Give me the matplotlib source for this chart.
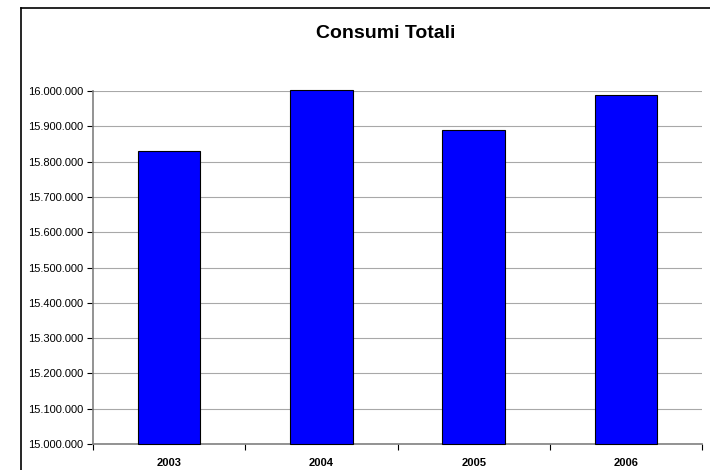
import matplotlib
matplotlib.use("Agg")
import matplotlib.pyplot as plt
from matplotlib.ticker import FuncFormatter, FixedLocator
from matplotlib.lines import Line2D

plt.rcParams["font.family"] = ["Liberation Sans", "DejaVu Sans"]

years = ["2003", "2004", "2005", "2006"]
consumi = [15830000, 16003000, 15890000, 15990000]
BASE = 15000000  # y axis starts here

BLUE = "#0000ff"
GRID = "#a8a8a8"
AXIS = "#808080"

fig = plt.figure(figsize=(7.1, 4.7), dpi=100, facecolor="white")

# outer chart border (left and top only visible in the reference)
fig.add_artist(Line2D([21 / 710, 21 / 710], [0, 1 - 8 / 470], color="black", lw=1.2))
fig.add_artist(Line2D([21 / 710, 1], [1 - 8 / 470, 1 - 8 / 470], color="black", lw=1.2))

ax = fig.add_axes([93 / 710, 1 - 444 / 470, (702 - 93) / 710, (444 - 91) / 470])

xs = list(range(len(years)))
heights = [v - BASE for v in consumi]
bars = ax.bar(xs, heights, bottom=BASE, width=0.41, color=BLUE,
              edgecolor="black", linewidth=0.8, zorder=3)
for b in bars:
    b.set_clip_on(False)  # 2004 pokes just above the top of the axis

ax.set_ylim(BASE, 16000000)
ax.set_xlim(-0.5, len(years) - 0.5)
ax.set_yticks(range(BASE, 16000001, 100000))
ax.yaxis.set_major_formatter(FuncFormatter(lambda v, p: f"{int(v):,}".replace(",", ".")))
ax.grid(True, axis="y", color=GRID, linewidth=0.8, zorder=0)
ax.set_axisbelow(True)

# ticks on category boundaries, labels centred on bars
ax.xaxis.set_major_locator(FixedLocator([i - 0.5 for i in range(len(years) + 1)]))
ax.xaxis.set_major_formatter(FuncFormatter(lambda v, p: ""))
ax.xaxis.set_minor_locator(FixedLocator(xs))
ax.set_xticklabels(years, minor=True, fontsize=8, fontweight="bold")
ax.tick_params(axis="x", which="minor", length=0, pad=10)
ax.tick_params(axis="x", which="major", length=4, direction="out", color="black")
ax.tick_params(axis="y", length=4, direction="out", labelsize=8, color="black", pad=3)

for side in ("top", "right"):
    ax.spines[side].set_visible(False)
ax.spines["left"].set_color(AXIS)
ax.spines["bottom"].set_color(AXIS)
ax.spines["left"].set_linewidth(1.2)
ax.spines["bottom"].set_linewidth(1.2)

fig.text(386 / 710, 1 - 33 / 470, "Consumi Totali", ha="center", va="center",
         fontsize=14, fontweight="bold")

fig.savefig("out.png", dpi=100, facecolor="white")
plt.close(fig)
